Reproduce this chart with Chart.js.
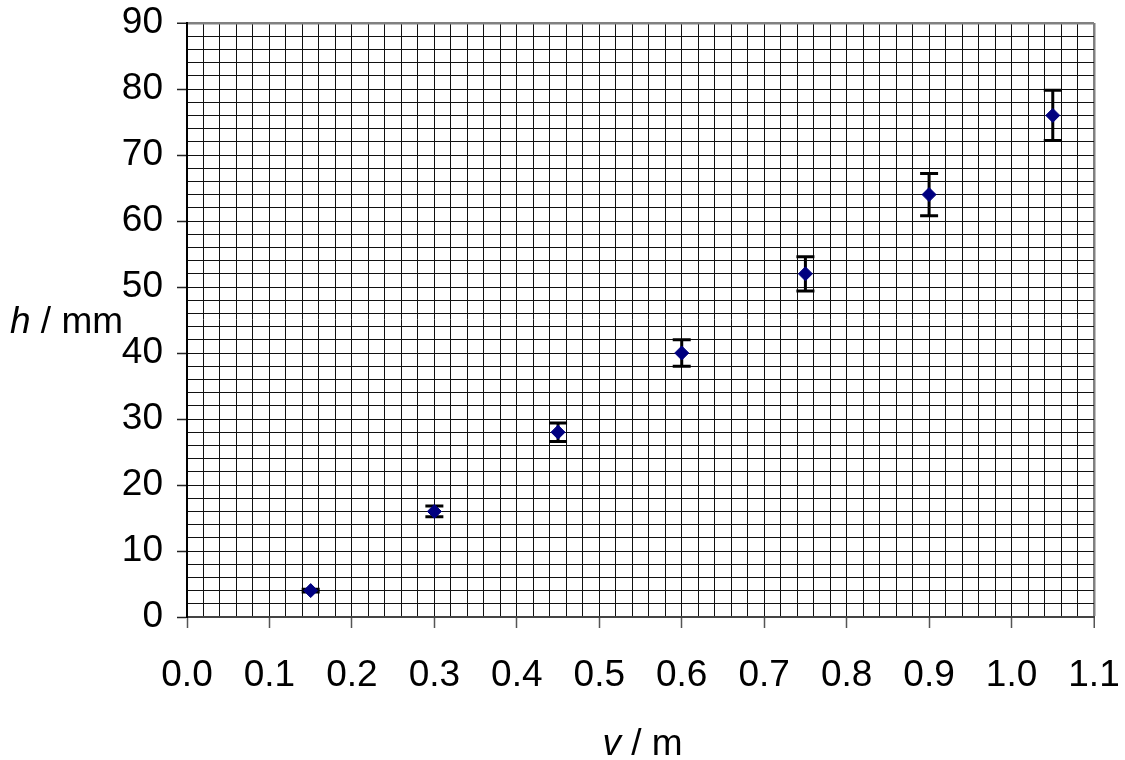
<!DOCTYPE html>
<html lang="en">

<head>
    <meta charset="UTF-8">
    <title>h / mm against v / m</title>
    <script src="https://cdn.jsdelivr.net/npm/chart.js"></script>
    <style>
        html, body { margin: 0; padding: 0; background: #fff; }
        #wrap { width: 1125px; height: 760px; }
    </style>
</head>

<body>
    <div id="wrap"><canvas id="myChart"></canvas></div>

    <script>
        // readings from the graph
        var xValues = [0.15, 0.30, 0.45, 0.60, 0.75, 0.90, 1.05];
        var yValues = [4, 16, 28, 40, 52, 64, 76];
        var yErrors = [0.2, 0.8, 1.4, 2.0, 2.6, 3.2, 3.8];

        var xMin = 0, xMax = 1.1, xStep = 0.02;
        var yMin = 0, yMax = 90, yStep = 2;

        var FONT = "'Liberation Sans', Arial, sans-serif";
        var FSIZE = 37;

        var points = xValues.map(function (x, i) {
            return { x: x, y: yValues[i] };
        });

        // error bars, drawn under the markers
        var errorBars = {
            id: 'errorBars',
            beforeDatasetsDraw: function (chart) {
                var ctx = chart.ctx;
                var xs = chart.scales.x, ys = chart.scales.y;
                ctx.save();
                ctx.strokeStyle = '#000';
                ctx.lineWidth = 3;
                xValues.forEach(function (x, i) {
                    var px = xs.getPixelForValue(x);
                    var top = ys.getPixelForValue(yValues[i] + yErrors[i]);
                    var bot = ys.getPixelForValue(yValues[i] - yErrors[i]);
                    ctx.beginPath();
                    ctx.moveTo(px, top);
                    ctx.lineTo(px, bot);
                    ctx.moveTo(px - 9, top);
                    ctx.lineTo(px + 9, top);
                    ctx.moveTo(px - 9, bot);
                    ctx.lineTo(px + 9, bot);
                    ctx.stroke();
                });
                ctx.restore();
            }
        };

        // axis titles with an italic symbol
        function drawTitle(ctx, sym, rest, x, y, align) {
            ctx.font = 'italic ' + FSIZE + 'px ' + FONT;
            var w1 = ctx.measureText(sym).width;
            ctx.font = FSIZE + 'px ' + FONT;
            var w2 = ctx.measureText(rest).width;
            var start = align === 'center' ? x - (w1 + w2) / 2 : x;
            ctx.textAlign = 'left';
            ctx.textBaseline = 'alphabetic';
            ctx.fillStyle = '#000';
            ctx.font = 'italic ' + FSIZE + 'px ' + FONT;
            ctx.fillText(sym, start, y);
            ctx.font = FSIZE + 'px ' + FONT;
            ctx.fillText(rest, start + w1, y);
        }

        var axisTitles = {
            id: 'axisTitles',
            afterDraw: function (chart) {
                var ctx = chart.ctx;
                var a = chart.chartArea;
                ctx.save();
                drawTitle(ctx, 'h', ' / mm', 10, (a.top + a.bottom) / 2 + 13, 'left');
                drawTitle(ctx, 'v', ' / m', (a.left + a.right) / 2 + 2, 755, 'center');
                ctx.restore();
            }
        };

        function gridColor(c) {
            var n = c.scale.ticks.length;
            return c.index === n - 1 ? '#808080' : '#111';
        }
        function gridWidth(c) {
            var n = c.scale.ticks.length;
            return c.index === n - 1 ? 2.5 : 1;
        }

        var chart01 = new Chart(document.getElementById('myChart'), {
            type: 'scatter',
            data: {
                datasets: [{
                    data: points,
                    pointStyle: 'rectRot',
                    pointRadius: 7,
                    pointHoverRadius: 7,
                    backgroundColor: '#000080',
                    borderColor: '#000080',
                    borderWidth: 1
                }]
            },
            plugins: [errorBars, axisTitles],
            options: {
                responsive: true,
                maintainAspectRatio: false,
                animation: false,
                layout: { padding: { top: 23, right: 31, left: 0, bottom: 0 } },
                plugins: {
                    legend: { display: false },
                    tooltip: { enabled: false }
                },
                scales: {
                    x: {
                        type: 'linear',
                        min: xMin,
                        max: xMax,
                        afterFit: function (s) {
                            s.height = 143;
                            s.paddingLeft = 0;
                            s.paddingRight = 0;
                        },
                        border: { display: true, color: '#444', width: 2 },
                        grid: {
                            color: gridColor,
                            lineWidth: gridWidth,
                            drawTicks: true,
                            tickLength: 11,
                            tickWidth: 1.5,
                            tickColor: function (c) { return c.index % 5 === 0 ? '#555' : 'rgba(0,0,0,0)'; }
                        },
                        ticks: {
                            stepSize: xStep,
                            autoSkip: false,
                            maxRotation: 0,
                            minRotation: 0,
                            padding: 26,
                            color: '#000',
                            font: { family: FONT, size: FSIZE, lineHeight: 1.2 },
                            callback: function (v, i) { return i % 5 === 0 ? v.toFixed(1) : ''; }
                        }
                    },
                    y: {
                        type: 'linear',
                        min: yMin,
                        max: yMax,
                        afterFit: function (s) {
                            s.width = 187;
                            s.paddingTop = 0;
                            s.paddingBottom = 0;
                        },
                        border: { display: true, color: '#000', width: 2 },
                        grid: {
                            color: gridColor,
                            lineWidth: gridWidth,
                            drawTicks: true,
                            tickLength: 10,
                            tickWidth: 1.5,
                            tickColor: function (c) { return c.index % 5 === 0 ? '#222' : 'rgba(0,0,0,0)'; }
                        },
                        ticks: {
                            stepSize: yStep,
                            autoSkip: false,
                            padding: 14,
                            color: '#000',
                            font: { family: FONT, size: FSIZE, lineHeight: 1 },
                            callback: function (v, i) { return i % 5 === 0 ? String(v) : ''; }
                        }
                    }
                }
            }
        });
    </script>
</body>

</html>
